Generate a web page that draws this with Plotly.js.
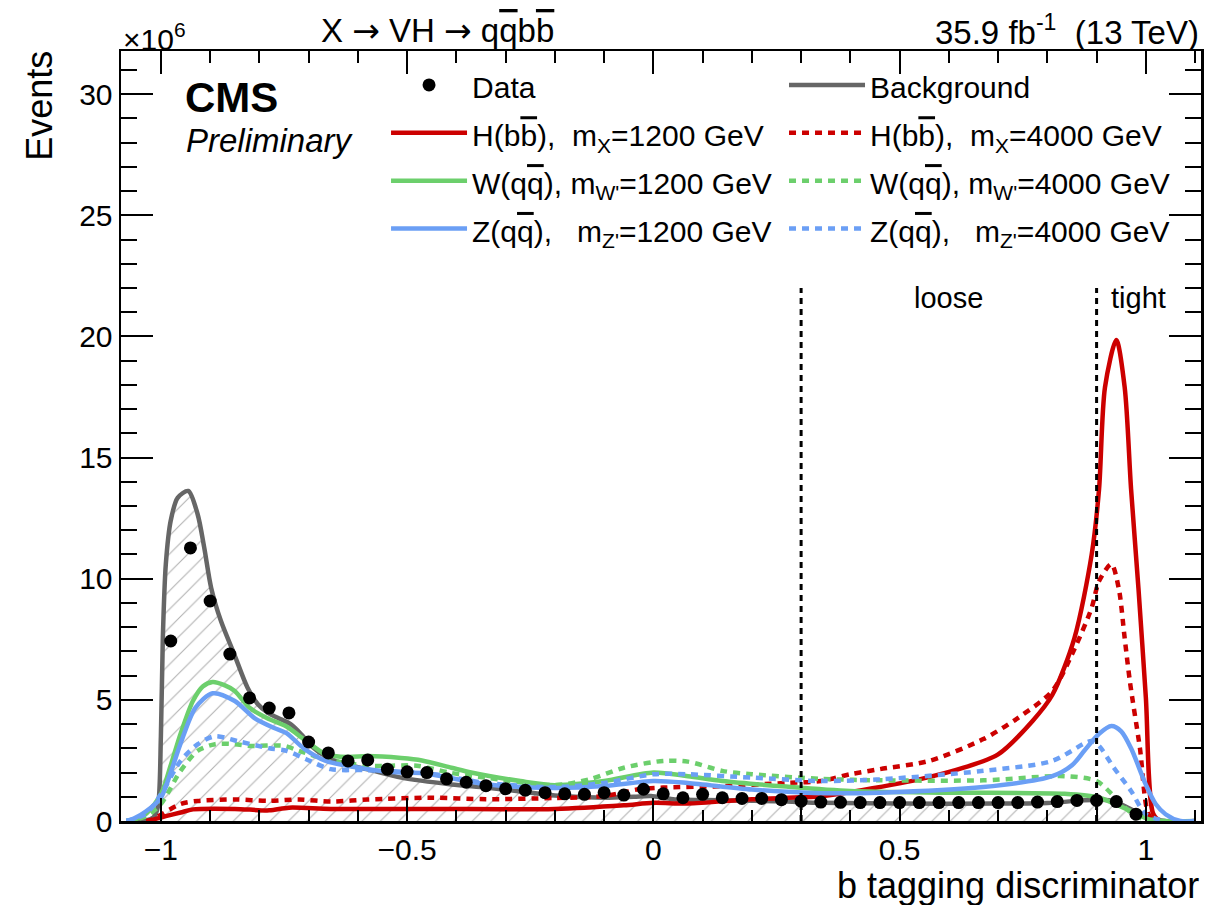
<!DOCTYPE html>
<html><head><meta charset="utf-8">
<script src="https://cdn.plot.ly/plotly-3.0.1.min.js"></script>
<style>html,body{margin:0;padding:0;background:#fff}</style>
</head><body><div id="chart" style="width:1208px;height:905px"></div>
<script>
// ---- Data (values in units of 10^6 events) ----
const dataX = [-0.98,-0.94,-0.90,-0.86,-0.82,-0.78,-0.74,-0.70,-0.66,-0.62,-0.58,-0.54,-0.50,-0.46,-0.42,-0.38,-0.34,-0.30,-0.26,-0.22,-0.18,-0.14,-0.10,-0.06,-0.02,
               0.02,0.06,0.10,0.14,0.18,0.22,0.26,0.30,0.34,0.38,0.42,0.46,0.50,0.54,0.58,0.62,0.66,0.70,0.74,0.78,0.82,0.86,0.90,0.94,0.98];
const dataY = [7.43,11.27,9.08,6.89,5.08,4.66,4.46,3.26,2.81,2.48,2.52,2.14,2.03,2.00,1.74,1.60,1.46,1.33,1.27,1.17,1.12,1.10,1.17,1.07,1.31,
               1.12,0.96,1.10,0.96,0.93,0.93,0.88,0.82,0.78,0.77,0.76,0.76,0.76,0.76,0.76,0.76,0.76,0.76,0.76,0.78,0.80,0.85,0.85,0.80,0.28];

const bkgX = [-1.07,-1.05,-1.03,-1.015,-1.006,-1.0,-0.996,-0.99,-0.98,-0.966,-0.9444,-0.9254,-0.912,-0.898,-0.878,-0.851,-0.824,-0.803,-0.783,-0.763,-0.736,-0.715,-0.695,-0.661,-0.62,-0.58,-0.512,-0.41,-0.34,-0.27,-0.2,-0.1,-0.04,-0.005,0.04,0.14,0.27,0.34,0.5,0.7,0.8,0.875,0.91,0.935,0.97,1.0,1.04];
const bkgY = [0,0,0.02,0.15,0.6,3.5,7.6,10.6,12.4,13.34,13.62,12.66,11.28,9.63,8.25,6.88,5.5,4.82,4.47,4.26,3.99,3.58,3.1,2.61,2.31,2.13,1.79,1.51,1.38,1.22,1.05,0.96,1.0,1.03,0.9,0.86,0.8,0.75,0.72,0.72,0.74,0.86,0.88,0.82,0.48,0.14,0];

const hbb1200X = [-1.03,-1.02,-0.99,-0.96,-0.935,-0.85,-0.78,-0.74,-0.655,-0.45,-0.2,-0.06,0.0,0.07,0.2,0.34,0.4,0.54,0.63,0.7,0.77,0.81,0.855,0.89,0.905,0.917,0.94,0.957,0.97,0.985,1.0,1.015,1.03,1.1];
const hbb1200Y = [0,0.04,0.2,0.35,0.48,0.5,0.44,0.55,0.5,0.5,0.5,0.65,0.75,0.72,0.9,1.02,1.2,1.72,2.2,2.75,4.13,5.2,7.55,11.0,13.7,17.9,19.85,17.9,13.7,9.6,5.1,0.3,0,0];

const hbb4000X = [-1.03,-1.02,-0.96,-0.925,-0.85,-0.78,-0.72,-0.655,-0.58,-0.45,-0.34,-0.2,-0.1,-0.03,0.02,0.14,0.27,0.34,0.4,0.46,0.56,0.67,0.74,0.81,0.855,0.89,0.905,0.93,0.945,0.957,0.968,0.988,1.005,1.02,1.1];
const hbb4000Y = [0,0.04,0.7,0.83,0.89,0.83,0.89,0.8,0.89,0.96,0.9,0.95,1.03,1.31,1.38,1.44,1.57,1.65,1.93,2.14,2.48,3.38,4.25,5.37,7.1,8.8,9.9,10.6,9.6,7.55,5.7,3.0,0.3,0,0];

const wqq1200X = [-1.07,-1.055,-1.03,-1.0,-0.98,-0.96,-0.935,-0.915,-0.895,-0.87,-0.85,-0.82,-0.785,-0.745,-0.705,-0.665,-0.62,-0.58,-0.512,-0.47,-0.41,-0.37,-0.27,-0.2,-0.1,0.0,0.07,0.14,0.27,0.4,0.6,0.835,0.905,0.97,1.005,1.04,1.1];
const wqq1200Y = [0,0.05,0.3,1.1,2.3,3.6,4.95,5.55,5.74,5.6,5.37,4.67,4.25,3.9,3.3,2.75,2.64,2.68,2.6,2.5,2.2,2.0,1.65,1.48,1.65,2.0,1.85,1.65,1.42,1.24,1.17,1.12,0.96,0.41,0.08,0,0];

const wqq4000X = [-1.07,-1.03,-1.0,-0.96,-0.925,-0.89,-0.85,-0.82,-0.75,-0.72,-0.665,-0.58,-0.48,-0.41,-0.34,-0.2,-0.13,-0.06,0.02,0.07,0.14,0.2,0.34,0.46,0.67,0.835,0.9,0.935,0.97,1.0,1.03];
const wqq4000Y = [0,0.2,0.7,2.07,2.9,3.17,3.17,3.1,3.1,2.9,2.55,2.28,2.28,1.98,1.79,1.48,1.72,2.2,2.48,2.45,2.07,1.93,1.74,1.68,1.68,1.85,1.65,1.03,0.34,0.04,0];

const zqq1200X = [-1.07,-1.055,-1.03,-1.0,-0.98,-0.96,-0.93,-0.895,-0.85,-0.81,-0.77,-0.745,-0.71,-0.665,-0.58,-0.512,-0.47,-0.34,-0.2,-0.1,0.0,0.07,0.2,0.34,0.46,0.67,0.81,0.85,0.875,0.905,0.93,0.95,0.97,1.0,1.02,1.04,1.07,1.1];
const zqq1200Y = [0,0.1,0.4,0.96,2.0,3.2,4.67,5.27,4.95,4.25,3.84,3.63,3.0,2.48,2.14,2.0,1.98,1.52,1.36,1.44,1.65,1.57,1.3,1.15,1.17,1.4,1.85,2.3,2.9,3.6,3.92,3.7,3.0,1.5,0.7,0.28,0,0];

const zqq4000X = [-1.07,-1.03,-1.0,-0.96,-0.925,-0.89,-0.845,-0.78,-0.745,-0.705,-0.655,-0.58,-0.445,-0.34,-0.2,-0.1,0.0,0.07,0.2,0.34,0.46,0.67,0.81,0.875,0.89,0.905,0.935,0.97,1.0,1.04];
const zqq4000Y = [0,0.3,1.1,2.48,3.17,3.5,3.3,3.0,2.9,2.55,2.14,2.1,1.93,1.57,1.4,1.57,1.93,1.93,1.79,1.65,1.72,2.07,2.48,3.2,3.3,3.1,2.2,1.24,0.28,0];

const cutValues = [0.3, 0.9];
const cutTop = 22;
const cutLabels = ['loose', 'tight'];
const cutLabelX = [0.6, 0.986];
const cutLabelY = 21.6;

const OL = s => '<span style="text-decoration:overline">' + s + '</span>';
const LT = s => '<span style="font-size:30px">' + s + '</span>';
const seriesNames = {
  data: LT('Data'),
  bkg: LT('Background'),
  h1200: LT('H(b' + OL('b') + '),\u00a0\u00a0m<sub>X</sub>=1200 GeV'),
  h4000: LT('H(b' + OL('b') + '),\u00a0\u00a0m<sub>X</sub>=4000 GeV'),
  w1200: LT('W(q' + OL('q') + '), m<sub>W\'</sub>=1200 GeV'),
  w4000: LT('W(q' + OL('q') + '), m<sub>W\'</sub>=4000 GeV'),
  z1200: LT('Z(q' + OL('q') + '),\u00a0\u00a0\u00a0m<sub>Z\'</sub>=1200 GeV'),
  z4000: LT('Z(q' + OL('q') + '),\u00a0\u00a0\u00a0m<sub>Z\'</sub>=4000 GeV')
};

const RED = '#cc0000', GREEN = '#6ccf6c', BLUE = '#6b9ff5', GRAY = '#666666';
const LW = 4.5;
const DOT = '7px,6px';

function curve(x, y, name, color, dash, leg, rank) {
  return {x: x, y: y, type: 'scatter', mode: 'lines', name: name, legend: leg,
    line: {color: color, width: LW, dash: dash, shape: 'spline', smoothing: 0.8},
    legendrank: rank, hoverinfo: 'skip'};
}

const traces = [
  {x: bkgX, y: bkgY, type: 'scatter', mode: 'lines', fill: 'tozeroy',
   line: {width: 0, shape: 'spline', smoothing: 0.8}, fillcolor: 'rgba(0,0,0,0)',
   fillpattern: {shape: '/', fgcolor: '#b0b0b0', bgcolor: 'rgba(255,255,255,0)', size: 13, solidity: 0.08},
   showlegend: false, hoverinfo: 'skip'},
  curve(bkgX, bkgY, seriesNames.bkg, GRAY, 'solid', 'legend2', 1),
  curve(hbb1200X, hbb1200Y, seriesNames.h1200, RED, 'solid', 'legend', 2),
  curve(hbb4000X, hbb4000Y, seriesNames.h4000, RED, DOT, 'legend2', 2),
  curve(wqq1200X, wqq1200Y, seriesNames.w1200, GREEN, 'solid', 'legend', 3),
  curve(wqq4000X, wqq4000Y, seriesNames.w4000, GREEN, DOT, 'legend2', 3),
  curve(zqq1200X, zqq1200Y, seriesNames.z1200, BLUE, 'solid', 'legend', 4),
  curve(zqq4000X, zqq4000Y, seriesNames.z4000, BLUE, DOT, 'legend2', 4),
  {x: dataX, y: dataY, type: 'scatter', mode: 'markers', name: seriesNames.data, legend: 'legend',
   marker: {color: 'black', size: 13}, legendrank: 1}
];

const FONT = 'Liberation Sans, Arial, Helvetica, sans-serif';
const ARROW = '<span style="font-family:DejaVu Sans">\u2192</span>';

const shapes = cutValues.map(v => ({type: 'line', xref: 'x', yref: 'y', x0: v, x1: v, y0: 0, y1: cutTop,
  line: {color: 'black', width: 3, dash: '6px,5px'}}));

const annotations = [
  {text: '\u00d710<sup>6</sup>', xref: 'paper', yref: 'paper', x: 0, y: 1.018, xanchor: 'left', yanchor: 'middle', showarrow: false, font: {size: 30, family: FONT, color: 'black'}},
  {text: 'X ' + ARROW + ' VH ' + ARROW + ' q' + OL('q') + 'b' + OL('b'), xref: 'paper', yref: 'paper', x: 0.2926, y: 1.027, xanchor: 'center', yanchor: 'middle', showarrow: false, font: {size: 33, family: FONT, color: 'black'}},
  {text: '35.9 fb<sup>-1</sup>\u00a0\u00a0(13 TeV)', xref: 'paper', yref: 'paper', x: 1, y: 1.027, xanchor: 'right', yanchor: 'middle', showarrow: false, font: {size: 33, family: FONT, color: 'black'}},
  {text: '<b>CMS</b>', xref: 'paper', yref: 'paper', x: 0.057, y: 0.939, xanchor: 'left', yanchor: 'middle', showarrow: false, font: {size: 42, family: FONT, color: 'black'}},
  {text: '<i>Preliminary</i>', xref: 'paper', yref: 'paper', x: 0.058, y: 0.8844, xanchor: 'left', yanchor: 'middle', showarrow: false, font: {size: 33, family: FONT, color: 'black'}},
  {text: 'Events', xref: 'paper', yref: 'paper', x: -0.075, y: 1.003, xanchor: 'center', yanchor: 'top', textangle: -90, showarrow: false, font: {size: 36, family: FONT, color: 'black'}},
  {text: 'b tagging discriminator', xref: 'paper', yref: 'paper', x: 1, y: -0.084, xanchor: 'right', yanchor: 'middle', showarrow: false, font: {size: 36, family: FONT, color: 'black'}}
].concat(cutLabels.map((t, i) => ({text: t, xref: 'x', yref: 'y', x: cutLabelX[i], y: cutLabelY, xanchor: 'center', yanchor: 'middle', showarrow: false, font: {size: 29, family: FONT, color: 'black'}})));

const axisCommon = {
  showgrid: false, zeroline: false, showline: true, linecolor: 'black', linewidth: 2.5,
  mirror: 'ticks', ticks: 'inside', tickcolor: 'black', tickwidth: 2,
  tickfont: {size: 30, family: FONT, color: 'black'}
};

const legendCommon = {orientation: 'v', xanchor: 'left', yanchor: 'top', itemwidth: 76,
  bgcolor: 'rgba(0,0,0,0)', borderwidth: 0, traceorder: 'normal',
  font: {size: 34.5, family: FONT, color: 'black'}};

const layout = {
  width: 1208, height: 905,
  margin: {l: 121, r: 7, t: 51, b: 84},
  paper_bgcolor: 'white', plot_bgcolor: 'white',
  font: {family: FONT, color: 'black'},
  showlegend: true,
  legend: Object.assign({}, legendCommon, {x: 0.2454, y: 0.9935}),
  legend2: Object.assign({}, legendCommon, {x: 0.6139, y: 0.9935}),
  xaxis: Object.assign({}, axisCommon, {range: [-1.081, 1.112], tick0: 0, dtick: 0.5, ticklen: 23,
    minor: {dtick: 0.1, tick0: 0, ticklen: 11.5, ticks: 'inside', tickcolor: 'black', tickwidth: 2}}),
  yaxis: Object.assign({}, axisCommon, {range: [0, 31.78], tick0: 0, dtick: 5, ticklen: 32,
    minor: {dtick: 1, tick0: 0, ticklen: 16, ticks: 'inside', tickcolor: 'black', tickwidth: 2}}),
  shapes: shapes,
  annotations: annotations
};

Plotly.newPlot('chart', traces, layout, {displayModeBar: false, staticPlot: true});
</script></body></html>
